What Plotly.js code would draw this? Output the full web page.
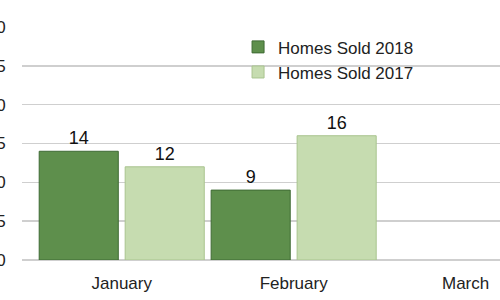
<!DOCTYPE html>
<html><head><meta charset="utf-8">
<script src="https://cdn.plot.ly/plotly-3.0.1.min.js"></script>
<style>html,body{margin:0;padding:0;background:#fff;}#chart{width:500px;height:300px;}</style>
</head><body><div id="chart"></div>
<script>
const months = ['January', 'February', 'March'];
const sold2018 = [14, 9, null];
const sold2017 = [12, 16, null];
const yTicks = [0, 5, 10, 15, 20, 25, 30];

const traces = [
  {type:'bar', name:'Homes Sold 2018', x:months, y:sold2018,
   marker:{color:'#5e8f4c', line:{color:'#3f6a34', width:1}},
   text:sold2018.map(v=>v==null?'':String(v)), textposition:'outside',
   textfont:{size:18, color:'#111'}, cliponaxis:false},
  {type:'bar', name:'Homes Sold 2017', x:months, y:sold2017,
   marker:{color:'#c6dcb0', line:{color:'#a9c48f', width:1}},
   text:sold2017.map(v=>v==null?'':String(v)), textposition:'outside',
   textfont:{size:18, color:'#111'}, cliponaxis:false}
];

const layout = {
  width:500, height:300,
  margin:{l:22, r:0, t:27, b:40},
  paper_bgcolor:'#fff', plot_bgcolor:'#fff',
  font:{family:'Liberation Sans, Arial, sans-serif', size:17, color:'#222'},
  barmode:'group', bargap:0.0, bargroupgap:0.08,
  showlegend:true,
  legend:{x:0.452, y:0.99, xanchor:'left', yanchor:'top', bgcolor:'rgba(0,0,0,0)',
          font:{size:17, color:'#222'}, tracegroupgap:0, itemwidth:30},
  xaxis:{type:'category', range:[-0.58, 2.2], showgrid:false, zeroline:false,
         showline:false, ticks:'outside', ticklen:8, tickcolor:'rgba(0,0,0,0)',
         tickfont:{size:17, color:'#222'}, fixedrange:true},
  yaxis:{range:[0, 30], tickvals:yTicks, showgrid:true, gridcolor:'#cfcfcf', gridwidth:1.5,
         zeroline:true, zerolinecolor:'#cfcfcf', zerolinewidth:1.5, showline:false,
         ticks:'outside', ticklen:12, tickcolor:'rgba(0,0,0,0)',
         tickfont:{size:17, color:'#222'}, fixedrange:true}
};
Plotly.newPlot('chart', traces, layout, {displayModeBar:false, staticPlot:true});
</script></body></html>
